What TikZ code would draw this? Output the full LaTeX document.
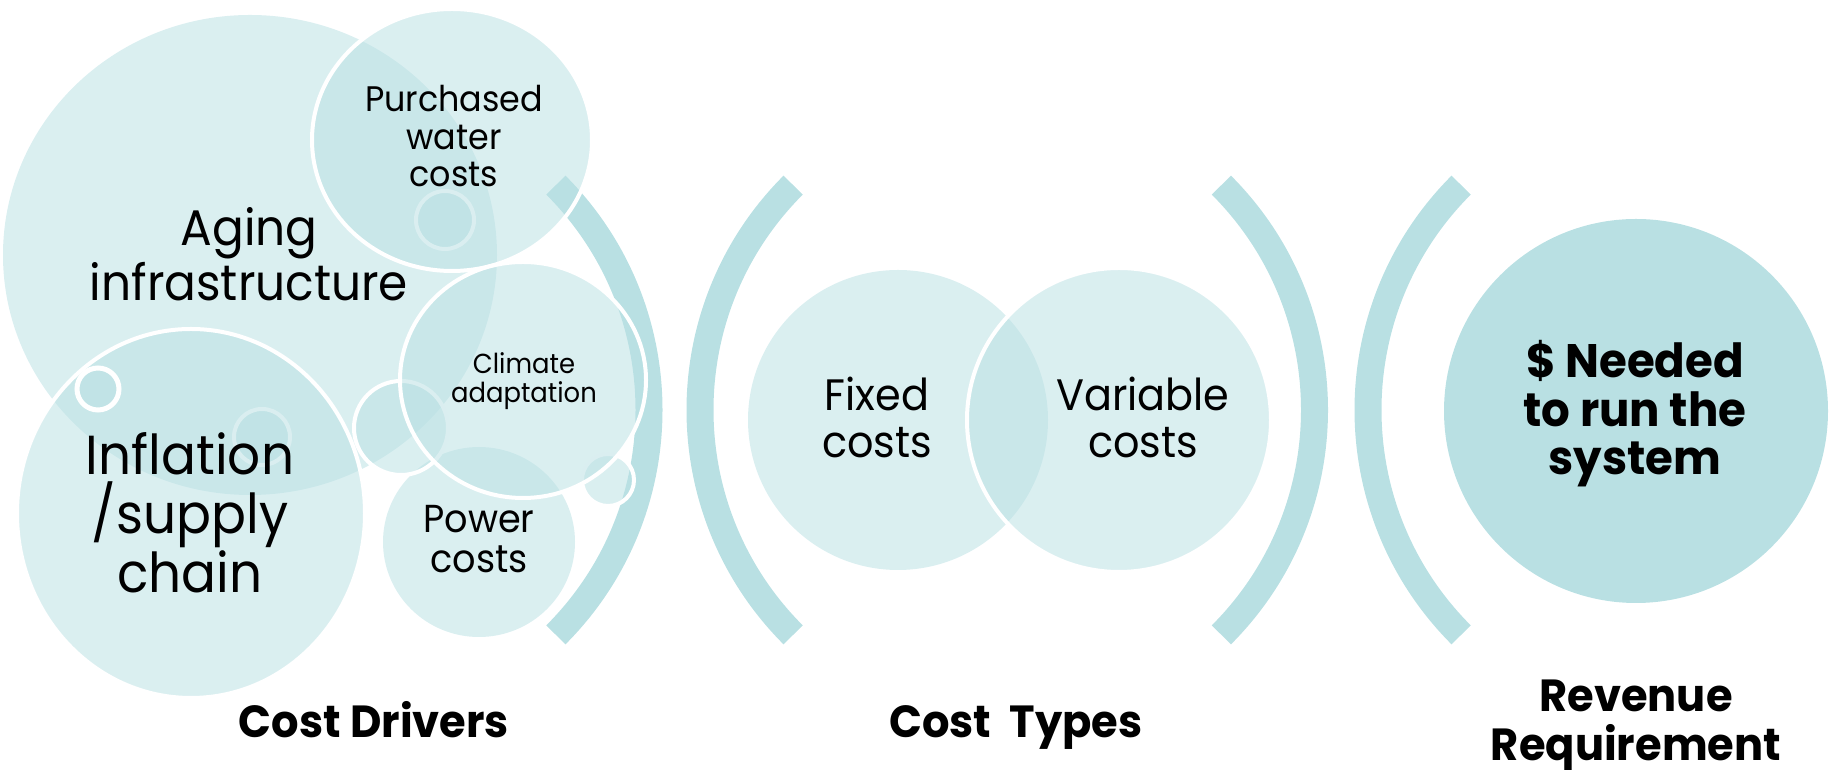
\documentclass[tikz,border=0pt]{standalone}
\usepackage{fontspec}
\setmainfont{Poppins}[FakeStretch=0.94]
\newfontfamily\headfont{Poppins}[FakeStretch=0.96]
\usepackage{tikz}
\definecolor{tealpale}{RGB}{185,224,227}

\begin{document}
\begin{tikzpicture}[scale=1.000000,x=1pt,y=1pt,
  bubble/.style={fill=tealpale,fill opacity=0.52},
  rimmed/.style={bubble,draw=white,line width=4pt},
  paren/.style={draw=tealpale,line width=27pt,line cap=butt},
  bubbletext/.style={inner sep=0pt,align=center,text=black},
  headtext/.style={inner sep=0pt,align=center,text=black,font=\headfont\bfseries\fontsize{45}{49}\selectfont}]
\useasboundingbox (0.000000, 0.000000) rectangle (1837.000000, 770.000000);
% Drawing brackets
\draw[paren] ([shift={(-45:318pt)}]331.000000, 360.000000) arc[start angle=-45, end angle=45, radius=318pt];
\draw[paren] ([shift={(135:318pt)}]1018.000000, 360.000000) arc[start angle=135, end angle=225, radius=318pt];
\draw[paren] ([shift={(-45:318pt)}]996.500000, 360.000000) arc[start angle=-45, end angle=45, radius=318pt];
\draw[paren] ([shift={(135:318pt)}]1686.000000, 360.000000) arc[start angle=135, end angle=225, radius=318pt];
% Done with brackets; drawing cost drivers
\fill[bubble] (250.000000, 515.000000) ellipse [x radius=247, y radius=240];
\filldraw[rimmed] (445.000000, 550.000000) circle [radius=29];
\filldraw[rimmed] (452.000000, 630.000000) ellipse [x radius=140, y radius=131];
\filldraw[rimmed] (262.000000, 333.000000) circle [radius=28];
\filldraw[rimmed] (191.000000, 256.500000) ellipse [x radius=174, y radius=184.5];
\filldraw[rimmed,line width=5pt] (98.000000, 381.000000) circle [radius=21];
\fill[bubble] (479.000000, 228.000000) ellipse [x radius=96, y radius=95];
\filldraw[rimmed] (401.000000, 342.000000) circle [radius=47];
\filldraw[rimmed] (608.000000, 290.000000) circle [radius=26];
\filldraw[rimmed] (523.000000, 390.000000) ellipse [x radius=123, y radius=118];
% Done with drivers; drawing cost types
\fill[bubble] (898.000000, 350.000000) circle [radius=150];
\filldraw[rimmed] (1119.000000, 350.000000) circle [radius=152];
% Line 3: revenue requirement
\fill[tealpale] (1636.000000, 359.000000) circle [radius=192];
% Done with shapes; drawing texts
\node[bubbletext,font=\fontsize{50}{55}\selectfont] (aging) at (249.000000, 516.000000) {Aging\\infrastructure};
\node[bubbletext,font=\fontsize{55}{59}\selectfont] (inflation) at (190.000000, 257.500000) {Inflation\\/supply\\chain};
\node[bubbletext,font=\fontsize{35.5}{37.5}\selectfont] (purchased) at (454.000000, 633.600000) {Purchased\\water\\costs};
\node[bubbletext,font=\fontsize{27.5}{29}\selectfont] (climate) at (524.000000, 389.200000) {Climate\\adaptation};
\node[bubbletext,font=\fontsize{39}{40}\selectfont] (power) at (479.000000, 230.500000) {Power\\costs};
\node[bubbletext,font=\fontsize{44}{47}\selectfont] (fixed) at (877.000000, 352.800000) {Fixed\\costs};
\node[bubbletext,font=\fontsize{44}{47}\selectfont] (variable) at (1143.000000, 352.800000) {Variable\\costs};
\node[bubbletext,font=\headfont\bfseries\fontsize{47}{48.5}\selectfont] (needed) at (1635.000000, 356.200000) {\$ Needed\\to run the\\system};
% Done with texts; drawing column titles
\node[headtext,anchor=base] (drivers) at (374.000000, 32.000000) {Cost Drivers};
\node[headtext,anchor=base] (types) at (1016.000000, 32.000000) {Cost\ \ Types};
\node[headtext] (revenue) at (1636.000000, 43.500000) {Revenue\\Requirement};
% Done with titles
\end{tikzpicture}
\end{document}
